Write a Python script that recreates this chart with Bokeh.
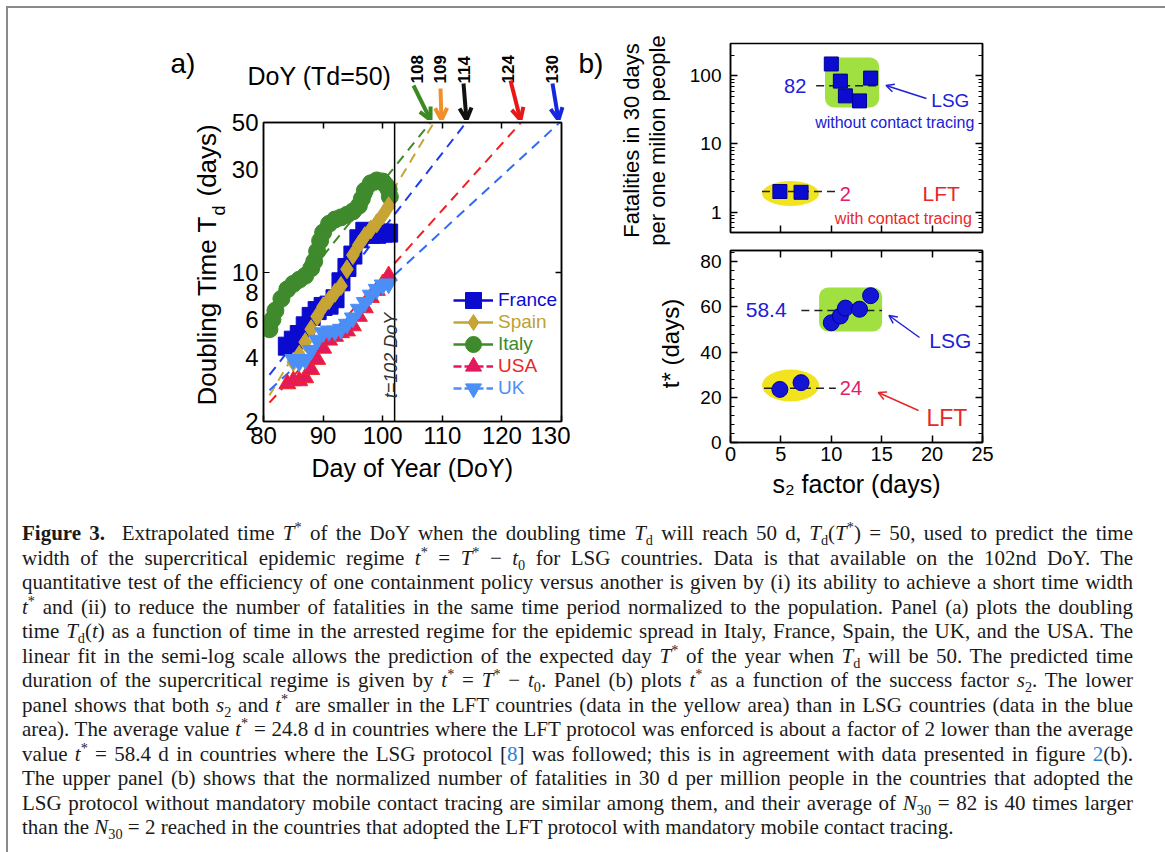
import numpy as np
from bokeh.plotting import figure
from bokeh.models import (Range1d, LinearAxis, LogAxis, FixedTicker, Label, Arrow, OpenHead,
                          Span, Legend, LegendItem, Div, NumeralTickFormatter)
from bokeh.layouts import column, row
from bokeh.embed import file_html
from bokeh.resources import INLINE

FONT = "Liberation Sans"

# ---------------- Panel (a) data: doubling time Td vs day of year ----------------
italy_doy = [81, 81.5, 82, 83, 84, 85, 86, 87, 88, 88.5, 89, 89.5, 90, 91, 92, 93, 94, 95, 96, 96.5,
             97, 98, 99, 100, 100.5, 101, 101.2]
italy_td = [5.4, 6.0, 6.6, 7.5, 8.3, 8.8, 9.2, 9.6, 10.4, 11.2, 12.5, 14.0, 15.3, 16.8, 17.6, 18.0,
            18.5, 19.2, 20.4, 22.0, 24.0, 26.0, 26.8, 26.5, 25.5, 24.3, 22.5]
france_doy = [84, 85, 86, 87, 88, 89, 90, 91, 92, 93, 94, 95, 96, 97, 98, 99, 100, 101]
france_td = [4.5, 4.8, 5.1, 5.6, 6.2, 6.6, 6.9, 7.0, 7.5, 9.0, 10.5, 12.0, 14.3, 15.5, 15.0, 15.0,
             15.2, 15.2]
spain_doy = [85, 86, 87, 88, 89, 90, 91, 92, 93, 94, 95, 96, 97, 98, 99, 100, 101]
spain_td = [3.8, 4.1, 4.7, 5.4, 6.2, 6.9, 7.4, 8.0, 8.6, 10.3, 12.0, 13.4, 14.7, 15.8, 16.9, 18.4, 20.3]
usa_doy = [84, 85, 86, 87, 88, 89, 90, 91, 92, 93, 94, 95, 96, 97, 98, 99, 100, 101]
usa_td = [3.0, 3.1, 3.1, 3.2, 3.5, 3.9, 4.4, 4.8, 5.0, 5.2, 5.3, 5.6, 6.2, 6.8, 7.6, 8.2, 8.8, 9.6]
uk_doy = [85, 86, 87, 88, 89, 90, 91, 92, 93, 94, 95, 96, 97, 98, 99, 100, 101]
uk_td = [3.9, 3.8, 3.9, 4.3, 4.8, 5.2, 5.3, 5.3, 5.4, 5.7, 6.1, 6.7, 7.2, 7.8, 8.3, 8.7, 8.8]

# linear fits in semi-log scale (start point and day when Td reaches 50)
fit_names = ["Italy", "Spain", "France", "USA", "UK"]
fit_start_doy = [81, 81, 81, 81, 81]
fit_start_td = [5.8, 2.65, 3.3, 2.45, 2.8]
fit_end_doy = [108, 108.6, 114, 123.2, 129.7]
td_target = 50
t50_labels = ["108", "109", "114", "124", "130"]
cutoff_doy = 102

x_ticks_a = [80, 90, 100, 110, 120, 130]
y_ticks_a = [2, 4, 6, 8, 10, 30, 50]

# ---------------- Panel (b) data ----------------
lsg_s2 = [10.0, 10.9, 11.4, 12.8, 13.9]
lsg_n30 = [150, 84, 51, 43, 93]
lsg_tstar = [53, 56, 59.5, 59, 65]
lft_s2 = [4.9, 7.0]
lft_n30 = [2.0, 1.95]
lft_tstar = [23.5, 26.5]
lsg_n30_text, lft_n30_text = "82", "2"
lsg_tstar_text, lft_tstar_text = "58.4", "24"
lsg_n30_level, lft_n30_level = 72, 2
lsg_tstar_level, lft_tstar_level = 58.4, 24

# ---------------- colours ----------------
C_FR, C_SP, C_IT, C_US, C_UK = "#0b0bd0", "#c6a534", "#3e8a2c", "#e3195c", "#4b8ff6"
C_FR_FIT, C_UK_FIT = "#1e3cf0", "#2f6cf5"
BLUE_T, RED_T, PINK_T = "#2020d8", "#e62828", "#e0206a"
NAN = float("nan")


# ---------------- page -> data helpers (pixel positions of annotations) ----------------
def ax(px):
    return 80 + (px - 263) / 298 * 50


def ay(py):
    return 2 * 10 ** ((421 - py) / 299 * np.log10(25))


def bx(px):
    return (px - 726) / 256 * 25


def b1y(py):
    return 10 ** (np.log10(300) - (py - 43) / 189 * np.log10(600))


def b2y(py):
    return (442 - py) / 192 * 85


def make_fig(w, h, xr, yr, ylog, l, r, t, b):
    p = figure(width=w, height=h, x_range=xr, y_range=yr, title=None,
               y_axis_type="log" if ylog else "linear",
               x_axis_location=None, y_axis_location=None,
               toolbar_location=None, output_backend="svg",
               min_border_left=l, min_border_right=r, min_border_top=t, min_border_bottom=b)
    p.outline_line_color = "black"
    p.outline_line_width = 1.5
    p.grid.visible = False
    p.background_fill_color = "white"
    p.border_fill_color = "white"
    return p


def strip(x0, x1, y0, y1, top=0, bottom=0):
    """A blank figure whose frame covers a rectangle of the page (page pixel coordinates)."""
    p = figure(width=x1 - x0, height=y1 - y0 + top + bottom, x_range=Range1d(x0, x1),
               y_range=Range1d(y1, y0), title=None,
               x_axis_location=None, y_axis_location=None, toolbar_location=None,
               output_backend="svg", min_border_left=0, min_border_right=0, min_border_top=top,
               min_border_bottom=bottom)
    p.outline_line_color = None
    p.grid.visible = False
    p.background_fill_color = "white"
    p.border_fill_color = "white"
    return p


def make_axis(kind, ticks, minor=(), labels=True, size="24px", tick_in=6, minor_in=3, standoff=5):
    cls = LogAxis if kind == "log" else LinearAxis
    a = cls(ticker=FixedTicker(ticks=list(ticks), minor_ticks=list(minor)),
            major_tick_in=tick_in, major_tick_out=0, minor_tick_in=minor_in, minor_tick_out=0,
            axis_line_color="black", axis_line_width=1.5,
            major_tick_line_color="black", major_tick_line_width=1.5,
            minor_tick_line_color="black", minor_tick_line_width=1,
            major_label_text_font=FONT, major_label_text_font_size=size,
            major_label_standoff=standoff if labels else 0,
            major_label_text_color="black" if labels else None,
            axis_label_text_font=FONT, axis_label_text_font_style="normal",
            axis_label_text_color="black")
    if kind == "log":
        a.formatter = NumeralTickFormatter(format="0")
    return a


def txt(p, x, y, text, size, color="black", align="left", baseline="middle", angle=0,
        style="normal"):
    p.add_layout(Label(x=x, y=y, text=text, text_font=FONT, text_font_size=f"{size}px",
                       text_color=color, text_align=align, text_baseline=baseline,
                       angle=angle, text_font_style=style))


def arr(p, x0, y0, x1, y1, color, width, head):
    p.add_layout(Arrow(x_start=x0, y_start=y0, x_end=x1, y_end=y1, line_color=color,
                       line_width=width,
                       end=OpenHead(size=head, line_color=color, line_width=width)))


# ======================= Panel (a) =======================
OVER = 12   # panel (a) canvas slides under the top strip by this many pixels
pa = make_fig(343, 380 + OVER, Range1d(80, 130), Range1d(2, 50), True, 36, 9, 2 + OVER, 79)
pa.border_fill_alpha = 0
xa = make_axis("linear", x_ticks_a, standoff=5)
xa.axis_label = "Day of Year (DoY)"
xa.axis_label_text_font_size = "25px"
xa.axis_label_standoff = 7
pa.add_layout(xa, "below")
pa.add_layout(make_axis("linear", x_ticks_a[1:-1], labels=False), "above")
pa.add_layout(make_axis("log", y_ticks_a, minor=[10], tick_in=0, minor_in=6), "left")
pa.add_layout(make_axis("log", [10], labels=False), "right")

fit_colors = [C_IT, C_SP, C_FR_FIT, "#f02020", C_UK_FIT]
for i in range(len(fit_names)):
    pa.line([fit_start_doy[i], fit_end_doy[i]], [fit_start_td[i], td_target],
            line_color=fit_colors[i], line_width=2, line_dash="10 7")

pa.add_layout(Span(location=cutoff_doy, dimension="height", line_color="black", line_width=1.5))

pa.scatter(italy_doy, italy_td, marker="circle", size=17, fill_color=C_IT, line_color=C_IT)
pa.scatter(france_doy, france_td, marker="square", size=18, fill_color=C_FR, line_color=C_FR)
pa.scatter(spain_doy, spain_td, marker="diamond", size=19, fill_color=C_SP, line_color=C_SP)
pa.scatter(usa_doy, usa_td, marker="triangle", size=17, fill_color=C_US, line_color="#f02828")
pa.scatter(uk_doy, uk_td, marker="inverted_triangle", size=17, fill_color=C_UK, line_color=C_UK)

# legend (one legend per entry so that each label keeps its own colour)
leg_rows = [("France", C_FR, "square", C_FR, "solid"),
            ("Spain", C_SP, "diamond", "#c0a030", "solid"),
            ("Italy", C_IT, "circle", "#3a8a2a", "solid"),
            ("USA", C_US, "triangle", "#e82828", "8 3"),
            ("UK", C_UK, "inverted_triangle", C_UK, "8 3")]
for k, (name, col, mk, tcol, dash) in enumerate(leg_rows):
    lr = pa.line([NAN], [NAN], line_color=col, line_width=2.5, line_dash=dash)
    sr = pa.scatter([NAN], [NAN], marker=mk, fill_color=col, line_color=col)
    cy = 121 - 22 * k
    lg = Legend(items=[LegendItem(label=name, renderers=[lr, sr])], location=(190, cy - 22),
                glyph_width=40, glyph_height=44, label_standoff=5, padding=0, margin=0, spacing=0,
                background_fill_alpha=0, border_line_color=None, label_text_font=FONT,
                label_text_font_size="19px", label_text_color=tcol, label_height=44)
    pa.add_layout(lg)

txt(pa, ax(390), ay(355), "t=102 DoY", 18, color="#333333", align="center", angle=np.pi / 2,
    style="italic")

# top strip of panel (a): panel letter, header and the T* arrows
ta = strip(8, 570, 8, 120)
ta.margin = (0, 0, -OVER, 0)
txt(ta, 170, 63, "a)", 28, baseline="alphabetic")
txt(ta, 247, 75, "DoY (Td=50)", 25, baseline="alphabetic")
num_x = [416.5, 439, 463, 507.5, 551]
arrow_tail = [(413, 85), (440, 88), (463, 83), (510, 80), (552, 83)]
arrow_tip = [430, 441, 466, 520, 558]
arrow_cols = ["#3c8a22", "#f0902a", "#111111", "#e81818", "#1428e0"]
for k in range(5):
    txt(ta, num_x[k], 83, t50_labels[k], 17, align="left", angle=np.pi / 2, style="bold")
    arr(ta, arrow_tail[k][0], arrow_tail[k][1], arrow_tip[k], 119.5, arrow_cols[k], 4, 12)

# left strip of panel (a): y axis title with subscript (frame aligned with panel a's frame)
ya = strip(8, 227, 122, 421, top=2 + OVER, bottom=79)
ya.border_fill_alpha = 0
txt(ya, 206, 405, "Doubling Time T", 26, baseline="alphabetic", angle=np.pi / 2)
txt(ya, 218, 215, "d", 18, baseline="alphabetic", angle=np.pi / 2)
txt(ya, 206, 196, "(days)", 26, baseline="alphabetic", angle=np.pi / 2)

# ======================= Panel (b) upper =======================
pb1 = make_fig(474, 232, Range1d(0, 25), Range1d(0.5, 300), True, 40, 178, 35, 8)
log_minor = [0.6, 0.7, 0.8, 0.9] + [m * 10 ** e for e in range(0, 3) for m in range(2, 10)
                                    if m * 10 ** e < 300]
pb1.add_layout(make_axis("log", [1, 10, 100], minor=log_minor, size="19px", tick_in=7,
                         minor_in=4, standoff=9), "left")
pb1.add_layout(make_axis("log", [1, 10, 100], minor=log_minor, labels=False, tick_in=7,
                         minor_in=4), "right")
pb1.add_layout(make_axis("linear", [5, 10, 15, 20], labels=False, tick_in=7), "below")

pb1.quad(left=[bx(822)], right=[bx(877)], bottom=[b1y(107)], top=[b1y(57)],
         fill_color="#a0e040", line_color=None, border_radius=9)
pb1.ellipse(x=[bx(787)], y=[b1y(193)], width=57, height=25, width_units="screen",
            height_units="screen", fill_color="#f2e31f", line_color=None)
pb1.line([bx(813), bx(877)], [lsg_n30_level, lsg_n30_level], line_color="#222222", line_width=1.5,
         line_dash="8 5")
pb1.line([bx(758), bx(833)], [lft_n30_level, lft_n30_level], line_color="#222222", line_width=1.5,
         line_dash="8 5")
pb1.scatter(lsg_s2, lsg_n30, marker="square", size=14, fill_color="#0c0cd0", line_color="#000090")
pb1.scatter(lft_s2, lft_n30, marker="square", size=14, fill_color="#0c0cd0", line_color="#000090")

txt(pb1, bx(803), b1y(85), lsg_n30_text, 20, color=BLUE_T, align="right")
txt(pb1, bx(837), b1y(193), lft_n30_text, 20, color=PINK_T)
txt(pb1, bx(930), b1y(100), "LSG", 19, color=BLUE_T)
txt(pb1, bx(812), b1y(122), "without contact tracing", 16, color=BLUE_T)
txt(pb1, bx(921), b1y(193), "LFT", 21, color=RED_T)
txt(pb1, bx(832), b1y(218), "with contact tracing", 16, color=RED_T)
arr(pb1, bx(925), b1y(98), bx(884), b1y(85), BLUE_T, 1.5, 8)

# ======================= Panel (b) lower =======================
pb2 = make_fig(474, 260, Range1d(0, 25), Range1d(0, 85), False, 40, 178, 10, 58)
lin_minor = [v for v in range(4, 85, 4) if v % 20 != 0]
pb2.add_layout(make_axis("linear", [0, 20, 40, 60, 80], minor=lin_minor, size="19px", tick_in=7,
                         minor_in=4, standoff=9), "left")
pb2.add_layout(make_axis("linear", [0, 20, 40, 60, 80], minor=lin_minor, labels=False, tick_in=7,
                         minor_in=4), "right")
pb2.add_layout(make_axis("linear", [5, 10, 15, 20], labels=False, tick_in=7), "above")
xb = make_axis("linear", [0, 5, 10, 15, 20, 25], size="20px", tick_in=7, standoff=4)
xb.axis_label = "s\u2082 factor (days)"
xb.axis_label_text_font_size = "25px"
xb.axis_label_standoff = 6
pb2.add_layout(xb, "below")

pb2.quad(left=[bx(816)], right=[bx(880)], bottom=[b2y(331)], top=[b2y(287)],
         fill_color="#a0e040", line_color=None, border_radius=9)
pb2.ellipse(x=[bx(787)], y=[b2y(385)], width=57, height=32, width_units="screen",
            height_units="screen", fill_color="#f2e31f", line_color=None)
pb2.line([bx(798), bx(880)], [lsg_tstar_level, lsg_tstar_level], line_color="#222222",
         line_width=1.5, line_dash="8 5")
pb2.line([bx(760), bx(833)], [lft_tstar_level, lft_tstar_level], line_color="#222222",
         line_width=1.5, line_dash="8 5")
pb2.scatter(lsg_s2, lsg_tstar, marker="circle", size=16, fill_color="#1414d4", line_color="#0000a0")
pb2.scatter(lft_s2, lft_tstar, marker="circle", size=16, fill_color="#1414d4", line_color="#0000a0")

txt(pb2, bx(783), b2y(309), lsg_tstar_text, 21, color=BLUE_T, align="right")
txt(pb2, bx(837), b2y(387), lft_tstar_text, 20, color=PINK_T)
txt(pb2, bx(928), b2y(340), "LSG", 21, color=BLUE_T)
txt(pb2, bx(925), b2y(417), "LFT", 23, color=RED_T)
arr(pb2, bx(918), b2y(337), bx(887), b2y(315), BLUE_T, 1.5, 8)
arr(pb2, bx(917), b2y(410), bx(876), b2y(392), RED_T, 1.5, 8)

# left strip of panel (b): panel letter and y axis titles
yb = strip(570, 686, 8, 500)
txt(yb, 578, 63, "b)", 28, baseline="alphabetic")
txt(yb, 631, 140, "Fatalities in 30 days", 22, align="center", angle=np.pi / 2)
txt(yb, 657, 140, "per one milion people", 22, align="center", angle=np.pi / 2)
txt(yb, 670, 343, "t* (days)", 24, align="center", angle=np.pi / 2)

# ======================= Caption =======================
B = '<span style="color:#2a7fd4">'
EQ = ' = '
MI = ' &minus; '
lines = [
    '<b>Figure 3.</b>&nbsp; Extrapolated time <i>T</i><sup>*</sup> of the DoY when the doubling time '
    '<i>T</i><sub>d</sub> will reach 50 d, <i>T</i><sub>d</sub>(<i>T</i><sup>*</sup>)' + EQ + '50, used to predict the time',
    'width of the supercritical epidemic regime <i>t</i><sup>*</sup>' + EQ + '<i>T</i><sup>*</sup>' + MI +
    '<i>t</i><sub>0</sub> for LSG countries. Data is that available on the 102nd DoY. The',
    'quantitative test of the efficiency of one containment policy versus another is given by (i) its '
    'ability to achieve a short time width',
    '<i>t</i><sup>*</sup> and (ii) to reduce the number of fatalities in the same time period normalized '
    'to the population. Panel (a) plots the doubling',
    'time <i>T</i><sub>d</sub>(<i>t</i>) as a function of time in the arrested regime for the epidemic '
    'spread in Italy, France, Spain, the UK, and the USA. The',
    'linear fit in the semi-log scale allows the prediction of the expected day <i>T</i><sup>*</sup> of '
    'the year when <i>T</i><sub>d</sub> will be 50. The predicted time',
    'duration of the supercritical regime is given by <i>t</i><sup>*</sup>' + EQ + '<i>T</i><sup>*</sup>' + MI +
    '<i>t</i><sub>0</sub>. Panel (b) plots <i>t</i><sup>*</sup> as a function of the success factor '
    '<i>s</i><sub>2</sub>. The lower',
    'panel shows that both <i>s</i><sub>2</sub> and <i>t</i><sup>*</sup> are smaller in the LFT countries '
    '(data in the yellow area) than in LSG countries (data in the blue',
    'area). The average value <i>t</i><sup>*</sup>' + EQ + '24.8 d in countries where the LFT protocol was '
    'enforced is about a factor of 2 lower than the average',
    'value <i>t</i><sup>*</sup>' + EQ + '58.4 d in countries where the LSG protocol [' + B + '8</span>] was '
    'followed; this is in agreement with data presented in figure ' + B + '2</span>(b).',
    'The upper panel (b) shows that the normalized number of fatalities in 30 d per million people in '
    'the countries that adopted the',
    'LSG protocol without mandatory mobile contact tracing are similar among them, and their average of '
    '<i>N</i><sub>30</sub>' + EQ + '82 is 40 times larger',
    'than the <i>N</i><sub>30</sub>' + EQ + '2 reached in the countries that adopted the LFT protocol with '
    'mandatory mobile contact tracing.',
]
rows_html = ''.join(
    '<div class="ln%s">%s</div>' % (" last" if i == len(lines) - 1 else "", t)
    for i, t in enumerate(lines))
html = ('<style>sup,sub{font-size:68%;line-height:0;}'
        '.ln{width:1111px;height:24.5px;white-space:nowrap;text-align:justify;'
        'text-align-last:justify;}'
        '.ln.last{text-align:left;text-align-last:left;}</style>'
        '<div style="font-family:\'Liberation Serif\',serif;font-size:21px;line-height:24.5px;'
        'color:#1a1a1a;padding:16px 0 0 9px;">' + rows_html + '</div>')
cap = Div(text=html, width=1152, height=344)

layout = column(row(column(ta, row(ya, pa)), row(yb, column(pb1, pb2))), cap,
                styles={"border": "2px solid #8a8a8a", "border-bottom": "none",
                        "margin": "6px 0 0 6px"})

open("out.html", "w").write(file_html(layout, INLINE))
